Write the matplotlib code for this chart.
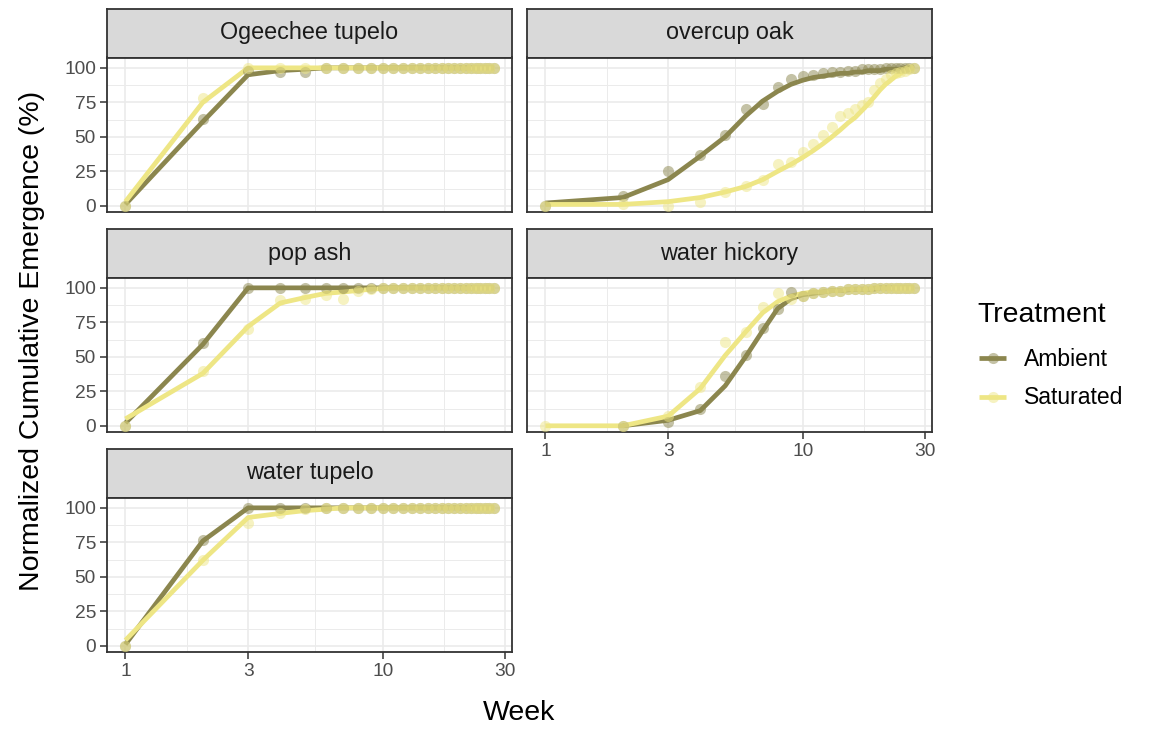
import numpy as np
import matplotlib
matplotlib.use('Agg')
import matplotlib.pyplot as plt

plt.rcParams['font.family'] = ['Liberation Sans', 'DejaVu Sans']

weeks = list(range(1, 28))
nan = float('nan')

species = ['Ogeechee tupelo', 'overcup oak', 'pop ash', 'water hickory', 'water tupelo']
treatments = ['Ambient', 'Saturated']
colors = {'Ambient': '#8B864E', 'Saturated': '#EEE685'}

# observed cumulative emergence (points), one value per week
ogeechee_amb_pts = [0, 63, 98, 97, 97] + [100] * 22
ogeechee_sat_pts = [0, 78] + [100] * 25
overcup_amb_pts = [0, 7, 25, 37, 51, 70, 74, 86, 92, 94, 95, 96, 97, 97, 98, 98,
                   99, 99, 99, 99, 100, 100, 100, 100, 100, 100, 100]
overcup_sat_pts = [0, 1, 0, 3, 10, 14, 19, 30, 32, 39, 45, 51, 57, 65, 67, 70,
                   73, 75, 84, 89, 92, 95, 96, 97, 98, 99, 100]
popash_amb_pts = [0, 60] + [100] * 25
popash_sat_pts = [0, 40, 70, 91, 92, 95, 92, 98, 99] + [100] * 18
hickory_amb_pts = [nan, 0, 3, 12, 36, 51, 71, 85, 97, 94, 96, 97, 98, 98, 99, 99,
                   99, 99] + [100] * 9
hickory_sat_pts = [0, 0, 7, 28, 61, 68, 86, 96, 92, 94, 96, 97, 98, 98, 99, 99,
                   99, 99] + [100] * 9
wtupelo_amb_pts = [0, 77] + [100] * 25
wtupelo_sat_pts = [0, 62, 89, 96, 99] + [100] * 22

# fitted curves (lines)
ogeechee_amb_line = [1, 61, 95, 98, 99] + [100] * 22
ogeechee_sat_line = [3, 75] + [100] * 25
overcup_amb_line = [2, 6, 19, 36, 50, 65, 76, 83, 88, 91, 93, 94, 95, 96, 96, 97,
                    97, 98, 98, 98, 99, 99, 99, 99, 100, 100, 100]
overcup_sat_line = [1, 1, 3, 6, 10, 14, 19, 25, 30, 35, 40, 45, 50, 55, 60, 64,
                    69, 74, 79, 84, 88, 91, 94, 96, 98, 99, 100]
popash_amb_line = [2, 59] + [100] * 25
popash_sat_line = [5, 38, 72, 89, 93, 96, 97, 98, 99, 99.5] + [100] * 17
hickory_amb_line = [nan, 0, 4, 11, 29, 50, 69, 85, 92, 95, 96, 97, 98, 98, 98.5, 99,
                    99, 99, 99] + [100] * 8
hickory_sat_line = [0, 0, 7, 27, 51, 68, 82, 90, 94, 96, 97, 97, 98, 98, 99, 99,
                    99, 99] + [100] * 9
wtupelo_amb_line = [1, 76] + [100] * 25
wtupelo_sat_line = [4, 62, 93, 96, 98, 99] + [100] * 21

points = {
    'Ogeechee tupelo': (ogeechee_amb_pts, ogeechee_sat_pts),
    'overcup oak': (overcup_amb_pts, overcup_sat_pts),
    'pop ash': (popash_amb_pts, popash_sat_pts),
    'water hickory': (hickory_amb_pts, hickory_sat_pts),
    'water tupelo': (wtupelo_amb_pts, wtupelo_sat_pts),
}
lines = {
    'Ogeechee tupelo': (ogeechee_amb_line, ogeechee_sat_line),
    'overcup oak': (overcup_amb_line, overcup_sat_line),
    'pop ash': (popash_amb_line, popash_sat_line),
    'water hickory': (hickory_amb_line, hickory_sat_line),
    'water tupelo': (wtupelo_amb_line, wtupelo_sat_line),
}

x_ticks = [1, 3, 10, 30]
y_ticks = [0, 25, 50, 75, 100]

W, H = 1150, 730
fig = plt.figure(figsize=(W / 100, H / 100), dpi=100)

LW = 3.4
MS = 8


def px_axes(x0, y0, x1, y1):
    return fig.add_axes([x0 / W, 1 - y1 / H, (x1 - x0) / W, (y1 - y0) / H])


col_x = [(107, 512), (527, 932)]
row_y = [8.5, 228.5, 448.5]
strip_h = 49
panel_h = 154.5

lo = np.log10(min(weeks))
hi = np.log10(max(weeks))
pad = 0.05 * (hi - lo)
xlim = (10 ** (lo - pad), 10 ** (hi + pad))
minor_x = [np.sqrt(a * b) for a, b in zip(x_ticks[:-1], x_ticks[1:])]
minor_y = [(a + b) / 2 for a, b in zip(y_ticks[:-1], y_ticks[1:])]

for i, name in enumerate(species):
    r, c = divmod(i, 2)
    x0, x1 = col_x[c]
    top = row_y[r]
    # strip
    sax = px_axes(x0, top, x1, top + strip_h)
    sax.set_facecolor('#D9D9D9')
    sax.set_xticks([])
    sax.set_yticks([])
    for s in sax.spines.values():
        s.set_color('#333333')
        s.set_linewidth(1.3)
    sax.text(0.5, 0.5, name, ha='center', va='center', fontsize=16.8,
             color='#1A1A1A', transform=sax.transAxes)

    ax = px_axes(x0, top + strip_h, x1, top + strip_h + panel_h)
    ax.set_xscale('log')
    ax.set_xlim(*xlim)
    ax.set_ylim(-4.5, 107.5)
    ax.set_xticks(x_ticks)
    ax.set_xticklabels([str(t) for t in x_ticks])
    ax.set_xticks(minor_x, minor=True)
    ax.set_yticks(y_ticks)
    ax.set_yticks(minor_y, minor=True)
    ax.grid(which='major', color='#EBEBEB', linewidth=1.2)
    ax.grid(which='minor', color='#EBEBEB', linewidth=0.7)
    ax.set_axisbelow(True)
    ax.tick_params(which='minor', length=0)
    ax.tick_params(which='major', length=5, width=1.1, color='#333333',
                   labelsize=13.8, labelcolor='#4D4D4D', pad=3)
    for s in ax.spines.values():
        s.set_color('#333333')
        s.set_linewidth(1.3)

    show_x = (i >= 3)
    show_y = (c == 0)
    ax.tick_params(axis='x', bottom=show_x, labelbottom=show_x)
    ax.tick_params(axis='y', left=show_y, labelleft=show_y)

    for t, ln in zip(treatments, lines[name]):
        ax.plot(weeks, ln, color=colors[t], lw=LW, solid_capstyle='butt', zorder=3)
    for t, pt in zip(treatments, points[name]):
        ax.plot(weeks, pt, 'o', color=colors[t], ms=MS, mew=0, alpha=0.5, zorder=4)

fig.text(32 / W, 1 - 341 / H, 'Normalized Cumulative Emergence (%)', rotation=90,
         ha='center', va='center', fontsize=20.5)
fig.text(519.5 / W, 1 - 713 / H, 'Week', ha='center', va='center', fontsize=20.5)

# legend
fig.text(977 / W, 1 - 315 / H, 'Treatment', ha='left', va='center', fontsize=20.4)
lax = px_axes(970, 340, 1140, 415)
lax.set_xlim(970, 1140)
lax.set_ylim(415, 340)
lax.axis('off')
for t, yy in zip(treatments, [358, 397]):
    lax.plot([979, 1006], [yy, yy], color=colors[t], lw=LW, solid_capstyle='butt')
    lax.plot([992.5], [yy], 'o', color=colors[t], ms=MS, mew=0, alpha=0.5)
    lax.text(1024, yy + 1, t, ha='left', va='center', fontsize=16.5)

fig.savefig('out.png', dpi=100)
